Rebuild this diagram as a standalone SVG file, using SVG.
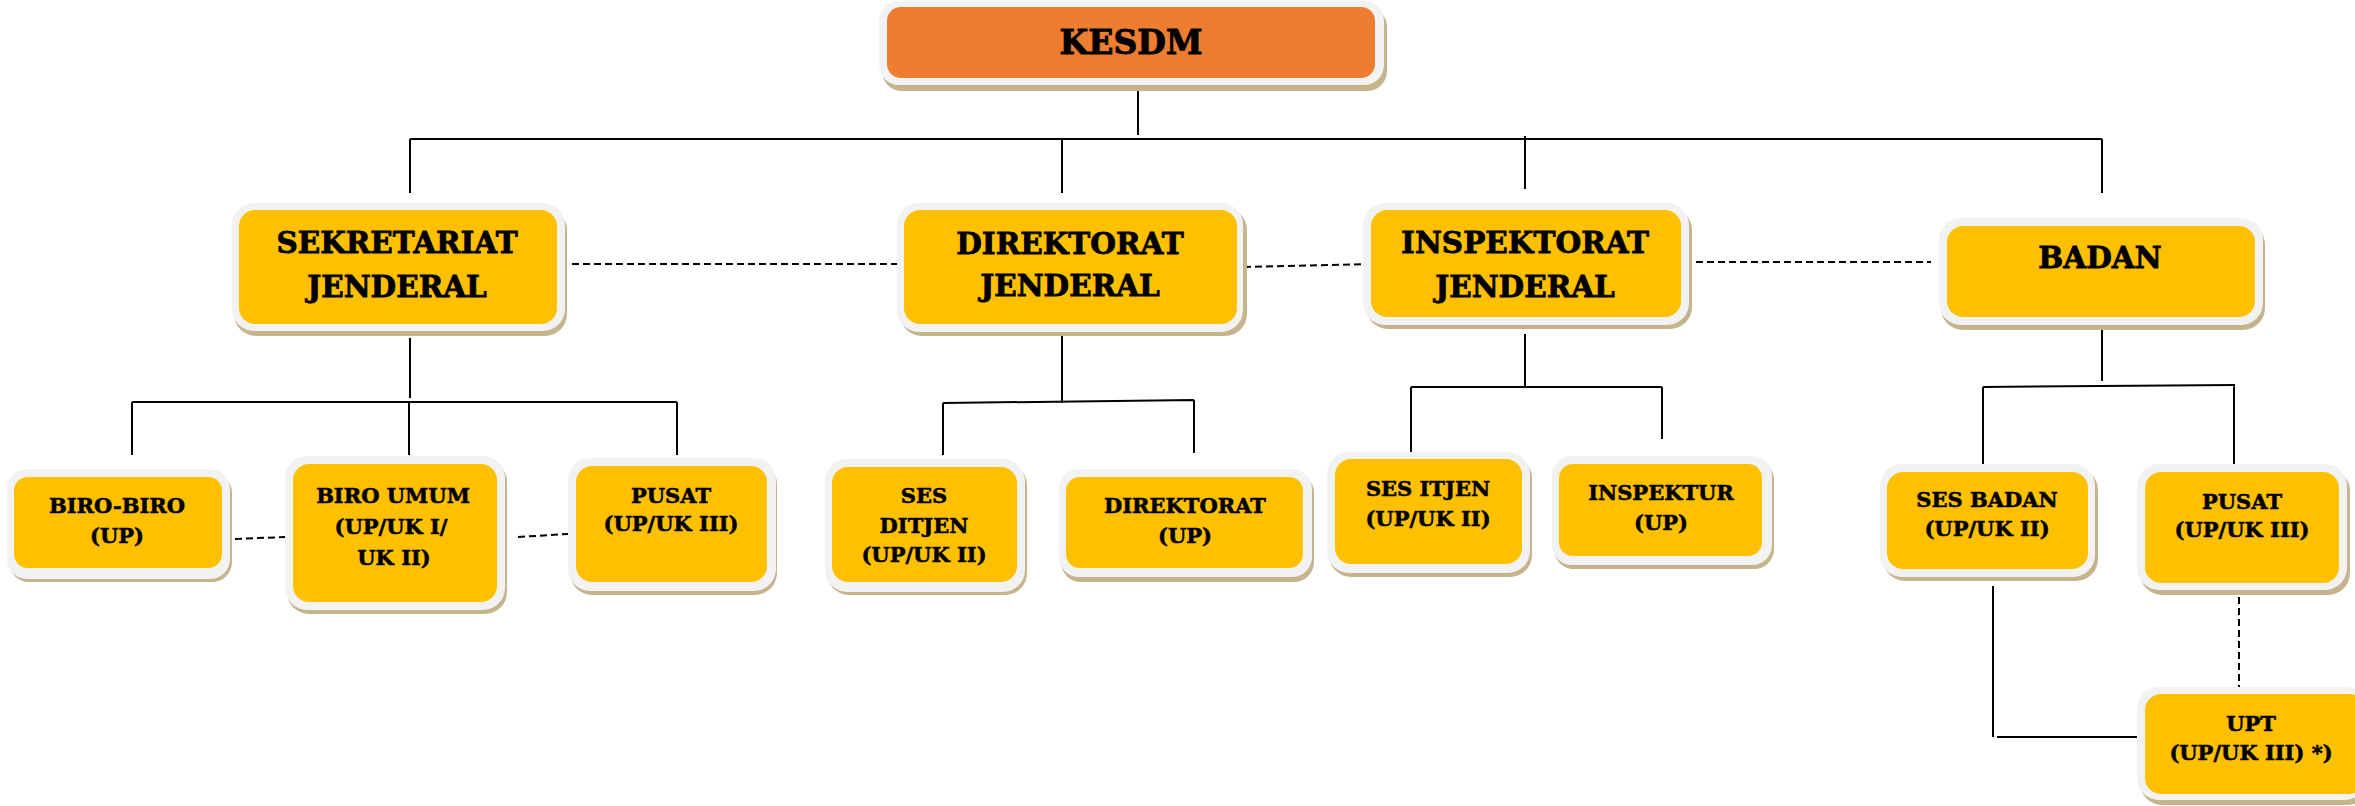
<svg xmlns="http://www.w3.org/2000/svg" width="2355" height="806" viewBox="0 0 2355 806">
  <style>
    .shadow { fill: #C5B48C; }
    .frame { fill: #F2F2F2; }
    .top { fill: #ED7D31; }
    .unit { fill: #FFC000; }
    text { font-family: "DejaVu Serif", "Liberation Serif", serif; font-weight: bold; fill: #000; stroke: #000; text-anchor: middle; }
    .t1 { font-size: 33px; stroke-width: 0.9; }
    .t2 { font-size: 29.5px; stroke-width: 0.8; }
    .t3 { font-size: 21px; stroke-width: 0.55; }
    .solid { fill: none; stroke: #000; stroke-width: 2; }
    .dash { fill: none; stroke: #000; stroke-width: 2; stroke-dasharray: 7 4; }
  </style>
  <rect width="2355" height="806" fill="#FFFFFF"/>

  <g id="connectors">
    <path class="solid" d="M1138 86 V135"/>
    <path class="solid" d="M410 139 H2102"/>
    <path class="solid" d="M410 139 V193 M1062 139 V193 M1525 136 V189 M2102 139 V193"/>
    <path class="solid" d="M410 338 V398 M132 402 H677 M132 402 V455 M409 402 V455 M677 402 V455"/>
    <path class="solid" d="M1062 334 V403 M943 403 L1194 400 M943 403 V455 M1194 400 V453"/>
    <path class="solid" d="M1525 334 V387 M1411 387 H1662 M1411 387 V455 M1662 387 V439"/>
    <path class="solid" d="M2102 327 V381 M1983 387 L2235 385 M1983 387 V467 M2234 385 V467"/>
    <path class="solid" d="M1993 586 V737 M1997 737 H2141"/>
    <path class="dash" d="M572 264 H900"/>
    <path class="dash" d="M1244 267 L1372 264"/>
    <path class="dash" d="M1685 262 H1931"/>
    <path class="dash" d="M235 539 L285 537"/>
    <path class="dash" d="M518 537 L568 534"/>
    <path class="dash" d="M2239 586 V692"/>
  </g>

  <g id="kesdm">
    <rect class="shadow" x="882" y="7" width="505" height="84" rx="20"/>
    <rect class="frame" x="879" y="1" width="505" height="84" rx="20"/>
    <rect class="top" x="887" y="7" width="488" height="71" rx="14"/>
    <text class="t1" x="1131" y="54">KESDM</text>
  </g>

  <g id="sekretariat-jenderal">
    <rect class="shadow" x="234" y="208" width="333" height="128" rx="22"/>
    <rect class="frame" x="232" y="203" width="333" height="128" rx="22"/>
    <rect class="unit" x="239" y="210" width="318" height="114" rx="16"/>
    <text class="t2" x="397" y="253">SEKRETARIAT</text>
    <text class="t2" x="397" y="297">JENDERAL</text>
  </g>

  <g id="direktorat-jenderal">
    <rect class="shadow" x="900" y="208" width="347" height="128" rx="22"/>
    <rect class="frame" x="897" y="203" width="346" height="129" rx="22"/>
    <rect class="unit" x="904" y="210" width="333" height="114" rx="16"/>
    <text class="t2" x="1070" y="254">DIREKTORAT</text>
    <text class="t2" x="1070" y="296">JENDERAL</text>
  </g>

  <g id="inspektorat-jenderal">
    <rect class="shadow" x="1366" y="208" width="326" height="121" rx="22"/>
    <rect class="frame" x="1363" y="203" width="326" height="122" rx="22"/>
    <rect class="unit" x="1371" y="210" width="310" height="107" rx="16"/>
    <text class="t2" x="1525" y="253">INSPEKTORAT</text>
    <text class="t2" x="1525" y="297">JENDERAL</text>
  </g>

  <g id="badan">
    <rect class="shadow" x="1941" y="223" width="324" height="107" rx="22"/>
    <rect class="frame" x="1939" y="218" width="324" height="107" rx="22"/>
    <rect class="unit" x="1947" y="226" width="308" height="91" rx="16"/>
    <text class="t2" x="2100" y="268">BADAN</text>
  </g>

  <g id="biro-biro">
    <rect class="shadow" x="9" y="473" width="223" height="109" rx="20"/>
    <rect class="frame" x="7" y="469" width="223" height="110" rx="20"/>
    <rect class="unit" x="14" y="477" width="208" height="91" rx="14"/>
    <text class="t3" x="117" y="513">BIRO-BIRO</text>
    <text class="t3" x="117" y="543">(UP)</text>
  </g>

  <g id="biro-umum">
    <rect class="shadow" x="287" y="460" width="220" height="154" rx="22"/>
    <rect class="frame" x="285" y="456" width="220" height="154" rx="22"/>
    <rect class="unit" x="293" y="464" width="204" height="138" rx="16"/>
    <text class="t3" x="393" y="503">BIRO UMUM</text>
    <text class="t3" x="391" y="534">(UP/UK I/</text>
    <text class="t3" x="394" y="565">UK II)</text>
  </g>

  <g id="pusat-setjen">
    <rect class="shadow" x="570" y="462" width="207" height="133" rx="22"/>
    <rect class="frame" x="568" y="458" width="208" height="133" rx="22"/>
    <rect class="unit" x="576" y="466" width="191" height="116" rx="16"/>
    <text class="t3" x="671" y="503">PUSAT</text>
    <text class="t3" x="671" y="531">(UP/UK III)</text>
  </g>

  <g id="ses-ditjen">
    <rect class="shadow" x="827" y="463" width="200" height="132" rx="22"/>
    <rect class="frame" x="825" y="459" width="200" height="133" rx="22"/>
    <rect class="unit" x="832" y="467" width="185" height="115" rx="16"/>
    <text class="t3" x="924" y="503">SES</text>
    <text class="t3" x="924" y="533">DITJEN</text>
    <text class="t3" x="924" y="562">(UP/UK II)</text>
  </g>

  <g id="direktorat">
    <rect class="shadow" x="1061" y="473" width="253" height="109" rx="20"/>
    <rect class="frame" x="1059" y="469" width="253" height="108" rx="20"/>
    <rect class="unit" x="1066" y="477" width="237" height="91" rx="14"/>
    <text class="t3" x="1185" y="513">DIREKTORAT</text>
    <text class="t3" x="1185" y="543">(UP)</text>
  </g>

  <g id="ses-itjen">
    <rect class="shadow" x="1329" y="456" width="203" height="121" rx="22"/>
    <rect class="frame" x="1327" y="452" width="203" height="121" rx="22"/>
    <rect class="unit" x="1335" y="459" width="187" height="105" rx="16"/>
    <text class="t3" x="1428" y="496">SES ITJEN</text>
    <text class="t3" x="1428" y="526">(UP/UK II)</text>
  </g>

  <g id="inspektur">
    <rect class="shadow" x="1554" y="460" width="220" height="109" rx="20"/>
    <rect class="frame" x="1552" y="456" width="220" height="109" rx="20"/>
    <rect class="unit" x="1559" y="464" width="203" height="92" rx="14"/>
    <text class="t3" x="1661" y="500">INSPEKTUR</text>
    <text class="t3" x="1661" y="530">(UP)</text>
  </g>

  <g id="ses-badan">
    <rect class="shadow" x="1883" y="468" width="215" height="113" rx="22"/>
    <rect class="frame" x="1880" y="464" width="215" height="113" rx="22"/>
    <rect class="unit" x="1887" y="472" width="201" height="97" rx="16"/>
    <text class="t3" x="1987" y="507">SES BADAN</text>
    <text class="t3" x="1987" y="536">(UP/UK II)</text>
  </g>

  <g id="pusat-badan">
    <rect class="shadow" x="2140" y="469" width="210" height="126" rx="22"/>
    <rect class="frame" x="2137" y="464" width="210" height="126" rx="22"/>
    <rect class="unit" x="2145" y="472" width="194" height="111" rx="16"/>
    <text class="t3" x="2242" y="509">PUSAT</text>
    <text class="t3" x="2242" y="537">(UP/UK III)</text>
  </g>

  <g id="upt">
    <rect class="shadow" x="2140" y="692" width="230" height="113" rx="22"/>
    <rect class="frame" x="2137" y="687" width="230" height="113" rx="22"/>
    <rect class="unit" x="2145" y="694" width="220" height="100" rx="16"/>
    <text class="t3" x="2251" y="731">UPT</text>
    <text class="t3" x="2251" y="760">(UP/UK III) *)</text>
  </g>
</svg>
